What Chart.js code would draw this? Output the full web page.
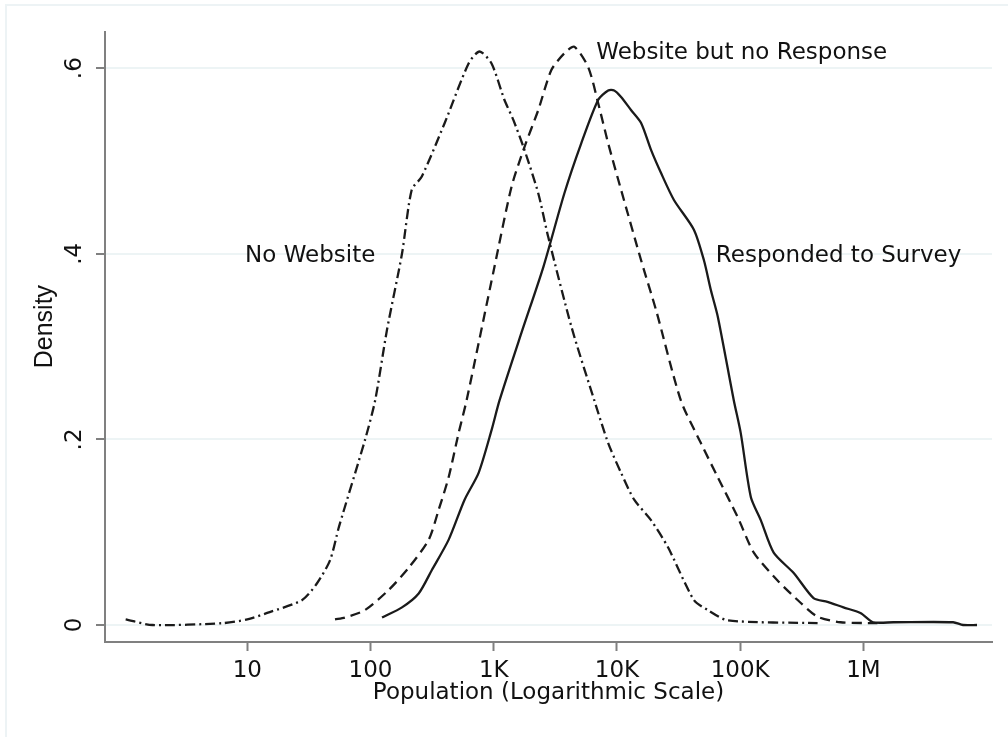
<!DOCTYPE html>
<html>
<head>
<meta charset="utf-8">
<script src="https://cdn.jsdelivr.net/npm/chart.js@4/dist/chart.umd.min.js"></script>
<style>
  body { margin: 0; background: #fff; }
  #wrap { position: relative; width: 1008px; height: 737px; }
  #frame {
    position: absolute; left: 5px; top: 4px; right: 0; bottom: 0;
    border-top: 2px solid #edf3f5; border-left: 2px solid #edf3f5;
    pointer-events: none;
  }
</style>
</head>
<body>
<div id="wrap">
  <canvas id="chart" width="1008" height="737"></canvas>
  <div id="frame"></div>
</div>
<script>
// x tick values and their labels
const xTicks = [10, 100, 1000, 10000, 100000, 1000000];
const xTickLabels = ["10", "100", "1K", "10K", "100K", "1M"];
const yTicks = [0, 0.2, 0.4, 0.6];
const yTickLabels = ["0", ".2", ".4", ".6"];

// No Website (dash-dot)
const noWebPop = [1.03, 1.7, 6.3, 10, 14.5, 27.9, 36.8, 47, 55.5, 90, 109, 136, 180, 216, 260, 400, 625, 767,
  960, 1220, 1445, 1775, 2300, 2770, 4300, 6550, 8490, 10800, 13800, 18900, 25900, 42100, 54700, 79400, 425000];
const noWebDens = [0.006, 0.0, 0.002, 0.006, 0.013, 0.027, 0.045, 0.070, 0.106, 0.199, 0.242, 0.318, 0.400, 0.469, 0.483, 0.541, 0.605, 0.618,
  0.605, 0.566, 0.544, 0.512, 0.465, 0.418, 0.320, 0.242, 0.196, 0.164, 0.135, 0.113, 0.084, 0.027, 0.016, 0.005, 0.002];

// Website but no Response (dashed)
const webPop = [51.5, 62, 90, 141, 205, 297, 357, 430, 519, 602, 1014, 1393, 1775, 2300, 2935, 3740, 4510,
  5850, 7050, 8490, 10800, 15700, 20800, 33000, 48000, 65900, 95700, 129000, 201000, 309000, 425000, 652000, 1300000];
const webDens = [0.006, 0.008, 0.016, 0.038, 0.062, 0.092, 0.124, 0.159, 0.207, 0.242, 0.386, 0.472, 0.515, 0.555, 0.598, 0.616, 0.623,
  0.601, 0.562, 0.519, 0.469, 0.393, 0.339, 0.242, 0.196, 0.159, 0.116, 0.078, 0.048, 0.024, 0.009, 0.003, 0.002];

// Responded to Survey (solid)
const respPop = [124, 180, 246, 314, 431, 580, 754, 960, 1114, 1680, 2530, 3740, 5130, 7050, 8490, 9490, 10800,
  13000, 15700, 18900, 22800, 29000, 42100, 50800, 57800, 65900, 88800, 101000, 122000, 147000, 187000, 272000,
  394000, 511000, 689000, 946000, 1200000, 1750000, 5350000, 6440000, 8360000];
const respDens = [0.008, 0.019, 0.034, 0.059, 0.092, 0.135, 0.164, 0.210, 0.242, 0.315, 0.386, 0.465, 0.519, 0.566, 0.576, 0.576, 0.569,
  0.555, 0.541, 0.512, 0.487, 0.458, 0.426, 0.393, 0.361, 0.332, 0.242, 0.207, 0.138, 0.113, 0.078, 0.056,
  0.029, 0.025, 0.019, 0.013, 0.003, 0.003, 0.003, 0.0, 0.0];

// curve labels, placed in data coordinates
const noteText = ["No Website", "Website but no Response", "Responded to Survey"];
const noteX = [9.6, 6790, 63500];
const noteY = [0.398, 0.616, 0.398];

const toPoints = (xs, ys) => xs.map((x, i) => ({ x, y: ys[i] }));

const ink = "#1a1a1a";
const axisGray = "#808080";
const textFont = "'DejaVu Sans', sans-serif";

const curveNotes = {
  id: "curveNotes",
  afterDatasetsDraw(chart) {
    const { ctx, scales } = chart;
    ctx.save();
    ctx.font = "23px " + textFont;
    ctx.fillStyle = "#111";
    ctx.textAlign = "left";
    ctx.textBaseline = "middle";
    noteText.forEach((t, i) => {
      ctx.fillText(t, scales.x.getPixelForValue(noteX[i]), scales.y.getPixelForValue(noteY[i]));
    });
    ctx.restore();
  },
};

const lineStyle = {
  borderColor: ink,
  borderWidth: 2.3,
  pointRadius: 0,
  tension: 0.25,
  fill: false,
};

new Chart(document.getElementById("chart"), {
  type: "line",
  data: {
    datasets: [
      { ...lineStyle, label: "No Website", data: toPoints(noWebPop, noWebDens), borderDash: [10, 4, 2, 4] },
      { ...lineStyle, label: "Website but no Response", data: toPoints(webPop, webDens), borderDash: [10, 6] },
      { ...lineStyle, label: "Responded to Survey", data: toPoints(respPop, respDens) },
    ],
  },
  options: {
    responsive: false,
    animation: false,
    layout: { padding: { top: 32, right: 16, left: 0, bottom: 0 } },
    plugins: {
      legend: { display: false },
      tooltip: { enabled: false },
    },
    scales: {
      x: {
        type: "logarithmic",
        min: 0.7366,
        max: 11060000,
        afterBuildTicks: scale => {
          scale.ticks = xTicks.map(value => ({ value }));
        },
        afterFit: scale => {
          scale.height = 95;
        },
        ticks: {
          color: "#111",
          font: { family: textFont, size: 23 },
          padding: 6,
          maxRotation: 0,
          autoSkip: false,
          callback: value => xTickLabels[xTicks.indexOf(value)] ?? "",
        },
        grid: {
          drawOnChartArea: false,
          drawTicks: true,
          tickLength: 9,
          tickColor: axisGray,
          tickWidth: 2,
        },
        border: { display: true, color: axisGray, width: 2 },
        title: {
          display: true,
          text: "Population (Logarithmic Scale)",
          color: "#111",
          font: { family: textFont, size: 23 },
          padding: { top: 0, bottom: 30 },
        },
      },
      y: {
        type: "linear",
        min: -0.0183,
        max: 0.639,
        afterBuildTicks: scale => {
          scale.ticks = yTicks.map(value => ({ value }));
        },
        afterFit: scale => {
          scale.width = 105;
        },
        ticks: {
          color: "#111",
          font: { family: textFont, size: 23 },
          minRotation: 90,
          maxRotation: 90,
          crossAlign: "center",
          padding: 10,
          callback: value => yTickLabels[yTicks.indexOf(value)] ?? "",
        },
        grid: {
          color: "#edf4f5",
          lineWidth: 2,
          tickLength: 9,
          tickColor: axisGray,
          tickWidth: 2,
        },
        border: { display: true, color: axisGray, width: 2 },
        title: {
          display: true,
          text: "   Density",
          color: "#111",
          font: { family: "'Liberation Sans', Arial, sans-serif", size: 25 },
          padding: { top: 30, bottom: 0 },
        },
      },
    },
  },
  plugins: [curveNotes],
});
</script>
</body>
</html>
